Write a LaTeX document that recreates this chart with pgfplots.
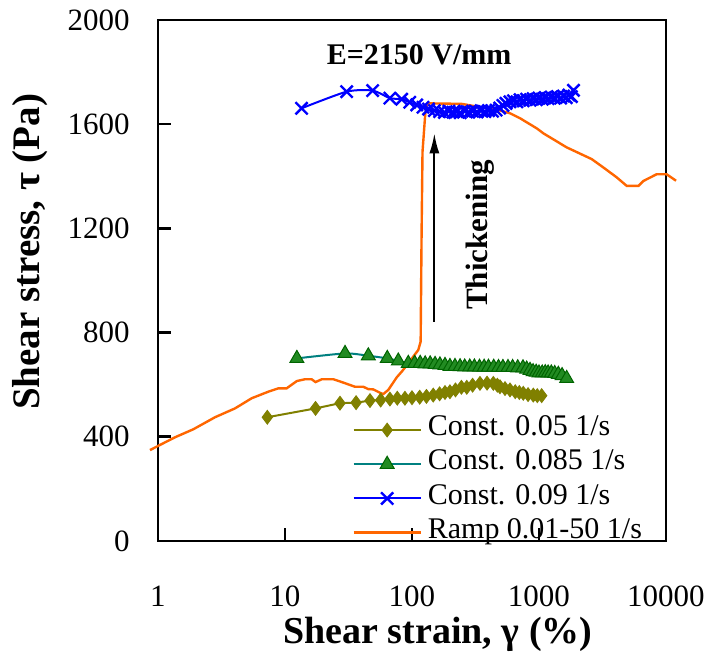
\documentclass[border=0pt]{standalone}
\usepackage{pgfplots}
\pgfplotsset{compat=1.18}
\usepackage{fontspec}
\setmainfont{Liberation Serif}
\usetikzlibrary{arrows.meta}

\definecolor{olivec}{RGB}{128,128,0}
\definecolor{tealc}{RGB}{0,128,128}
\definecolor{greenf}{RGB}{34,139,34}
\definecolor{greend}{RGB}{0,100,0}
\definecolor{bluec}{RGB}{0,0,255}
\definecolor{orangec}{RGB}{255,102,0}

\begin{document}
\begin{tikzpicture}
\useasboundingbox (0,0) rectangle (356.5pt,331pt);
\begin{axis}[
  at={(79pt,60.5pt)}, anchor=south west,
  scale only axis, width=254pt, height=260.5pt,
  xmode=log, xmin=1, xmax=10000, ymin=0, ymax=2000,
  xtick={1,10,100,1000,10000}, xticklabels={1,10,100,1000,10000},
  ytick={0,400,800,1200,1600,2000}, yticklabels={0,400,800,1200,1600,2000},
  xminorticks=false, yminorticks=false,
  tick align=inside, xtick pos=bottom, ytick pos=left,
  major tick length=6.5pt,
  tick style={black, line width=1.3pt},
  axis line style={line width=1.4pt},
  ticklabel style={font=\fontsize{15.5}{18}\selectfont},
  yticklabel style={anchor=east, inner sep=0pt, xshift=-14pt},
  xticklabel style={anchor=base, inner sep=0pt, yshift=-33pt},
  xlabel={Shear strain, γ (\%)},
  xlabel style={at={(axis description cs:0.551,-0.180)}, anchor=center, font=\fontsize{19}{22}\selectfont\bfseries},
  ylabel={Shear stress, τ (Pa)},
  ylabel style={at={(axis description cs:-0.252,0.555)}, anchor=center, font=\fontsize{19.5}{22}\selectfont\bfseries},
  clip=false,
  legend cell align=left,
  legend style={at={(0.382,0.245)}, anchor=north west, draw=none, fill=none, inner sep=0pt,
    font=\fontsize{15}{18}\selectfont, column sep=3pt, row sep=0.8pt,
    nodes={inner sep=0pt, text height=11pt, text depth=5.3pt}},
  legend image code/.code={\draw[mark repeat=2,mark phase=2,#1] plot coordinates {(0pt,0pt) (16.75pt,0pt) (33.5pt,0pt)};},
]

\addplot[olivec, line width=1pt, mark=diamond*, mark size=3.4pt, mark options={fill=olivec, draw=olivec, line width=0.5pt}] table {
x y
7.26 475
17.4 509
27.1 529
36.3 531
46.7 539
56.7 541
67 545
76.6 548
88 548
100 550
115 552
130 555
147 560
165 565
182 570
199 573
220 580
245 590
270 590
300 598
343 605
390 606
437 605
470 598
493 592
540 585
591 580
650 573
700 570
752 567
820 562
902 560
970 558
1050 558
};
\addlegendentry{Const. 0.05 1/s}

\addplot[tealc, line width=1pt, smooth, tension=0.4, mark=triangle*, mark size=4pt, mark options={fill=greenf, draw=greend, line width=0.5pt}] table {
x y
12.4 701
29.7 720
45.3 711
63.9 701
78 691
93.5 682
105 682
116 682
127 680
139 680
152 678
166 676
182 674
199 670
218 670
239 669
260 668
285 668
310 668
340 667
370 667
400 667
440 667
480 666
520 666
570 666
620 666
680 665
748 665
800 660
850 655
898 650
950 648
1000 645
1060 645
1120 646
1180 645
1250 645
1330 643
1420 640
1520 635
1652 624
};
\addlegendentry{Const. 0.085 1/s}

\addplot[orangec, line width=1.2pt, forget plot] table {
x y
0.865 349
1.04 369
1.36 398
1.90 429
2.81 475
4.04 509
5.47 548
7.38 573
8.86 586
10.3 586
12.4 614
14.4 621
16.2 621
17.4 610
19.5 621
24.0 621
28.8 608
35.6 592
41.4 592
45.3 583
49.6 582
56.0 569
59.4 564
65.1 580
75.8 628
83.0 650
93.6 682
102 707
112 733
117 765
118 976
119 1181
121 1494
127 1635
131 1674
135 1680
246 1678
350 1665
450 1658
591 1642
708 1623
960 1584
1082 1565
1652 1511
2600 1466
3210 1434
4090 1396
4910 1363
6070 1363
6640 1382
8450 1408
10100 1408
12000 1383
};

\addplot[bluec, line width=1pt, smooth, tension=0.4, mark=x, mark size=4.3pt, mark options={line width=1.2pt}] table {
x y
13.5 1661
30.6 1725
49 1729
67 1700
83 1696
96 1684
109 1674
122 1665
135 1658
150 1652
165 1648
180 1645
195 1650
210 1646
225 1648
240 1644
260 1650
280 1646
300 1650
325 1647
350 1652
375 1648
400 1652
430 1650
460 1654
490 1662
520 1672
550 1680
590 1686
630 1690
670 1686
710 1694
750 1690
800 1696
850 1692
900 1698
950 1694
1000 1700
1060 1696
1120 1702
1180 1698
1250 1704
1320 1700
1400 1706
1480 1700
1560 1708
1640 1702
1720 1712
1800 1706
1870 1730
};
\addlegendentry{Const. 0.09 1/s}

\addlegendimage{orangec, line width=1.2pt}
\addlegendentry{Ramp 0.01-50 1/s}

\node[font=\fontsize{15}{18}\selectfont\bfseries] at (axis description cs:0.514,0.933) {E=2150 V/mm};
\draw[-{Latex[length=10pt,width=5pt]}, line width=1pt] (axis cs:150,842) -- (axis cs:150,1565);
\node[rotate=90, font=\fontsize{15.5}{18}\selectfont\bfseries] at (axis cs:343,1175) {Thickening};
\end{axis}
\end{tikzpicture}
\end{document}
